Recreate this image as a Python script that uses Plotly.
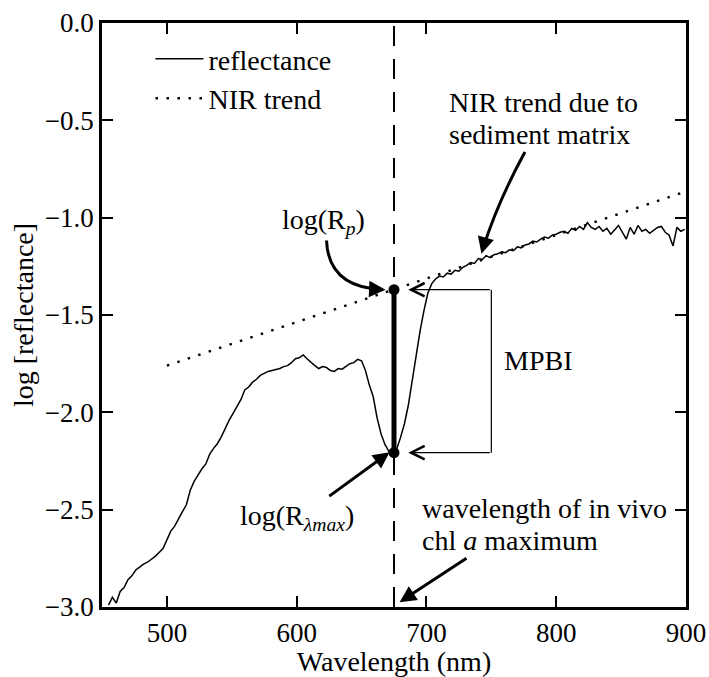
import plotly.graph_objects as go

# ---------------- data ----------------
wavelength_nm = [
    455, 458, 461, 464, 467, 470, 473, 476, 479, 482, 485, 488, 491, 494, 497,
    500, 503, 506, 509, 512, 515, 518, 521, 524, 527, 530, 533, 536, 539, 542,
    545, 548, 551, 554, 557, 560, 563, 566, 569, 572, 575, 578, 581, 584, 587,
    590, 593, 596, 599, 602, 605, 608, 611, 614, 617, 620, 623, 626, 629, 632,
    635, 638, 641, 644, 647, 650, 653, 656, 659, 662, 665, 668, 671, 674, 677,
    680, 683, 686, 689, 692, 695, 698, 701, 704, 707, 710, 713, 716, 719, 722,
    725, 728, 731, 734, 737, 740, 743, 746, 749, 752, 755, 758, 761, 764, 767,
    770, 773, 776, 779, 782, 785, 788, 791, 794, 797, 800, 803, 806, 809, 812,
    815, 818, 821, 824, 827, 830, 833, 836, 839, 842, 845, 848, 851, 854, 857,
    860, 863, 866, 869, 872, 875, 878, 881, 884, 887, 890, 893, 896, 899,
]
log_reflectance = [
    -2.99, -2.95, -2.98, -2.92, -2.90, -2.86, -2.84, -2.81, -2.795, -2.78, -2.77, -2.755, -2.74, -2.72, -2.70,
    -2.655, -2.61, -2.585, -2.545, -2.51, -2.475, -2.40, -2.355, -2.32, -2.29, -2.265, -2.215, -2.185, -2.16, -2.125,
    -2.08, -2.04, -2.005, -1.97, -1.935, -1.885, -1.87, -1.845, -1.83, -1.81, -1.80, -1.79, -1.785, -1.78, -1.775,
    -1.765, -1.76, -1.745, -1.725, -1.72, -1.705, -1.725, -1.745, -1.76, -1.775, -1.765, -1.77, -1.785, -1.79, -1.775,
    -1.778, -1.765, -1.75, -1.745, -1.728, -1.735, -1.785, -1.86, -1.92, -2.03, -2.11, -2.165, -2.20, -2.212, -2.19,
    -2.13, -2.06, -1.965, -1.84, -1.70, -1.585, -1.48, -1.39, -1.34, -1.315, -1.30, -1.305, -1.285, -1.29, -1.27,
    -1.275, -1.255, -1.245, -1.23, -1.235, -1.21, -1.215, -1.195, -1.205, -1.19, -1.185, -1.175, -1.18, -1.165, -1.17,
    -1.15, -1.155, -1.14, -1.135, -1.12, -1.125, -1.11, -1.10, -1.105, -1.09, -1.085, -1.075, -1.07, -1.08, -1.055,
    -1.065, -1.045, -1.06, -1.025, -1.05, -1.06, -1.045, -1.07, -1.055, -1.085, -1.06, -1.04, -1.075, -1.11, -1.05,
    -1.085, -1.04, -1.07, -1.06, -1.08, -1.065, -1.05, -1.045, -1.075, -1.09, -1.145, -1.05, -1.07, -1.06,
]

nir_trend_x = [500, 900]
nir_trend_y = [-1.76, -0.865]

chl_max_nm = 675
log_Rp = -1.37
log_R_lambda_max = -2.207

x_ticks = [500, 600, 700, 800, 900]
y_ticks = [0.0, -0.5, -1.0, -1.5, -2.0, -2.5, -3.0]

FONT = "Liberation Serif, Times New Roman, DejaVu Serif, serif"
TXT = 28

# ---------------- figure ----------------
fig = go.Figure()

fig.add_trace(go.Scatter(
    x=[chl_max_nm, chl_max_nm], y=[-3.0, 0.0], mode="lines",
    line=dict(color="black", width=2, dash="20px,13px"),
    showlegend=False, hoverinfo="skip"))

fig.add_trace(go.Scatter(
    x=wavelength_nm, y=log_reflectance, mode="lines", name="reflectance",
    line=dict(color="black", width=1.5)))

fig.add_trace(go.Scatter(
    x=nir_trend_x, y=nir_trend_y, mode="lines", name="NIR trend",
    line=dict(color="black", width=2.5, dash="2.5px,8.5px")))

fig.add_trace(go.Scatter(
    x=[chl_max_nm, chl_max_nm], y=[log_Rp, log_R_lambda_max], mode="lines+markers",
    line=dict(color="black", width=5), marker=dict(color="black", size=11),
    showlegend=False, hoverinfo="skip"))

# MPBI bracket
bracket_x = 750
arrow_tip_x = 686
fig.add_shape(type="line", xref="x", yref="y", x0=bracket_x, x1=bracket_x,
              y0=log_Rp, y1=log_R_lambda_max, line=dict(color="black", width=1.2))

annotations = []
for yv in (log_Rp, log_R_lambda_max):
    annotations.append(dict(x=arrow_tip_x, y=yv, ax=bracket_x, ay=yv, xref="x", yref="y",
                            axref="x", ayref="y", text="", showarrow=True,
                            arrowhead=5, arrowsize=2.2, arrowwidth=1.2, arrowcolor="black",
                            standoff=0))

# curved arrow bodies
fig.add_shape(type="path", xref="x", yref="y",
              path="M 623,-1.117 Q 624.5,-1.358 666,-1.369",
              line=dict(color="black", width=3))
fig.add_shape(type="path", xref="x", yref="y",
              path="M 775.9,-0.663 Q 754.7,-0.922 743.5,-1.16",
              line=dict(color="black", width=3))

# filled arrow heads / straight arrows
def bold_arrow(x, y, ax, ay):
    return dict(x=x, y=y, ax=ax, ay=ay, xref="x", yref="y", axref="x", ayref="y",
                text="", showarrow=True, arrowhead=2, arrowsize=1.1, arrowwidth=3,
                arrowcolor="black", standoff=0)

annotations.append(bold_arrow(668.5, -1.37, 655, -1.366))
annotations.append(bold_arrow(742.4, -1.185, 745.5, -1.11))
annotations.append(bold_arrow(671.6, -2.205, 624, -2.436))
annotations.append(bold_arrow(679.3, -2.975, 732, -2.744))

def label(text, x, y, xanchor="center"):
    return dict(x=x, y=y, xref="x", yref="y", text=text, showarrow=False,
                xanchor=xanchor, yanchor="middle",
                font=dict(family=FONT, size=TXT, color="black"))

annotations += [
    label("log(R<sub><i>p</i></sub>)", 620.7, -1.02),
    label("log(R<sub><i>λmax</i></sub>)", 600.6, -2.54),
    label("NIR trend due to", 716, -0.41, "left"),
    label("sediment matrix", 716, -0.574, "left"),
    label("MPBI", 786.3, -1.735),
    label("wavelength of in vivo", 695, -2.495, "left"),
    label("chl <i>a</i> maximum", 695, -2.658, "left"),
]

fig.update_layout(
    width=709, height=677,
    margin=dict(l=102, r=23, t=23, b=70, pad=0),
    paper_bgcolor="white", plot_bgcolor="white",
    font=dict(family=FONT, size=27, color="black"),
    annotations=annotations,
    legend=dict(x=0.083, y=0.981, xanchor="left", yanchor="top",
                bgcolor="rgba(0,0,0,0)", itemwidth=48,
                font=dict(family=FONT, size=TXT, color="black")),
    xaxis=dict(range=[450, 900], tickvals=x_ticks, ticktext=[str(v) for v in x_ticks],
               ticks="inside", ticklen=11, tickwidth=1.5, tickcolor="black",
               showline=True, linewidth=2.5, linecolor="black", mirror="ticks",
               showgrid=False, zeroline=False, automargin=False,
               title=dict(text="Wavelength (nm)", standoff=8,
                          font=dict(family=FONT, size=TXT))),
    yaxis=dict(range=[-3.0, 0.0], tickvals=y_ticks, tickformat=".1f",
               ticks="inside", ticklen=11, tickwidth=1.5, tickcolor="black",
               showline=True, linewidth=2.5, linecolor="black", mirror="ticks",
               showgrid=False, zeroline=False, automargin=False,
               title=dict(text="log [reflectance]", standoff=4,
                          font=dict(family=FONT, size=TXT))),
)

fig.write_html("out.html")
